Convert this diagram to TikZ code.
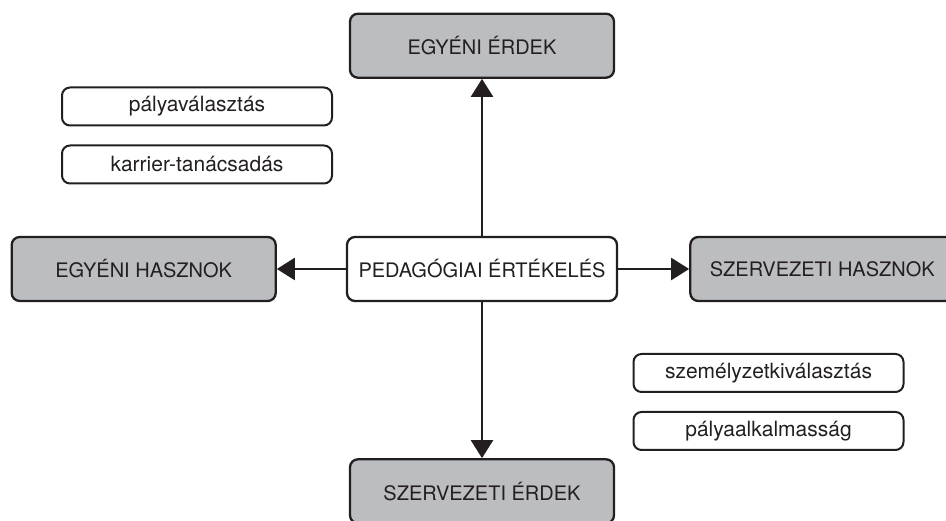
\documentclass[tikz,border=0pt]{standalone}
\usepackage{fontspec}
\setmainfont{TeX Gyre Heros}
\usepackage{tikz}
\usetikzlibrary{
   arrows.meta,
   positioning
}
\definecolor{inkdark}{HTML}{231F20}
\definecolor{boxgray}{HTML}{BCBDC0}

\begin{document}
\begin{tikzpicture}[
    x=1pt, y=1pt,
    font=\fontsize{20pt}{24pt}\selectfont,
    bigbox/.style={rectangle, rounded corners=8pt, draw=inkdark, line width=2.3pt, text=inkdark, minimum width=264pt, minimum height=64pt, align=center, fill=boxgray},
    tagbox/.style={rectangle, rounded corners=8pt, draw=inkdark, line width=2pt, text=inkdark, minimum width=270pt, minimum height=38pt, align=center, fill=white, font=\fontsize{21pt}{25pt}\selectfont},
    arrow/.style={-{Triangle[length=18pt,width=22pt]}, draw=inkdark, line width=2.3pt}
]
\useasboundingbox (0,0) rectangle (946,521);
\clip (0,0) rectangle (946,521);

\node[bigbox, fill=white, minimum width=270pt] (Ped) at (482,252) {PEDAGÓGIAI ÉRTÉKELÉS};
\node[bigbox, above=157pt of Ped] (EgyErd) {EGYÉNI ÉRDEK};
\node[bigbox, below=156pt of Ped] (SzErd) {SZERVEZETI ÉRDEK};
\node[bigbox, left=69pt of Ped] (EgyHasz) {EGYÉNI HASZNOK};
\node[bigbox, right=71pt of Ped] (SzHasz) {SZERVEZETI HASZNOK};

\node[tagbox] (Palyav) at (197,414.5) {pályaválasztás};
\node[tagbox, below=18pt of Palyav] (Karrier) {karrier-tanácsadás};
\node[tagbox] (Szemely) at (768.5,148) {személyzetkiválasztás};
\node[tagbox, below=18pt of Szemely] (Alkalm) {pályaalkalmasság};

\draw[arrow] (Ped) -- (EgyErd);
\draw[arrow] (Ped) -- (SzErd);
\draw[arrow] (Ped) -- (EgyHasz);
\draw[arrow] (Ped) -- (SzHasz);

\end{tikzpicture}
\end{document}
